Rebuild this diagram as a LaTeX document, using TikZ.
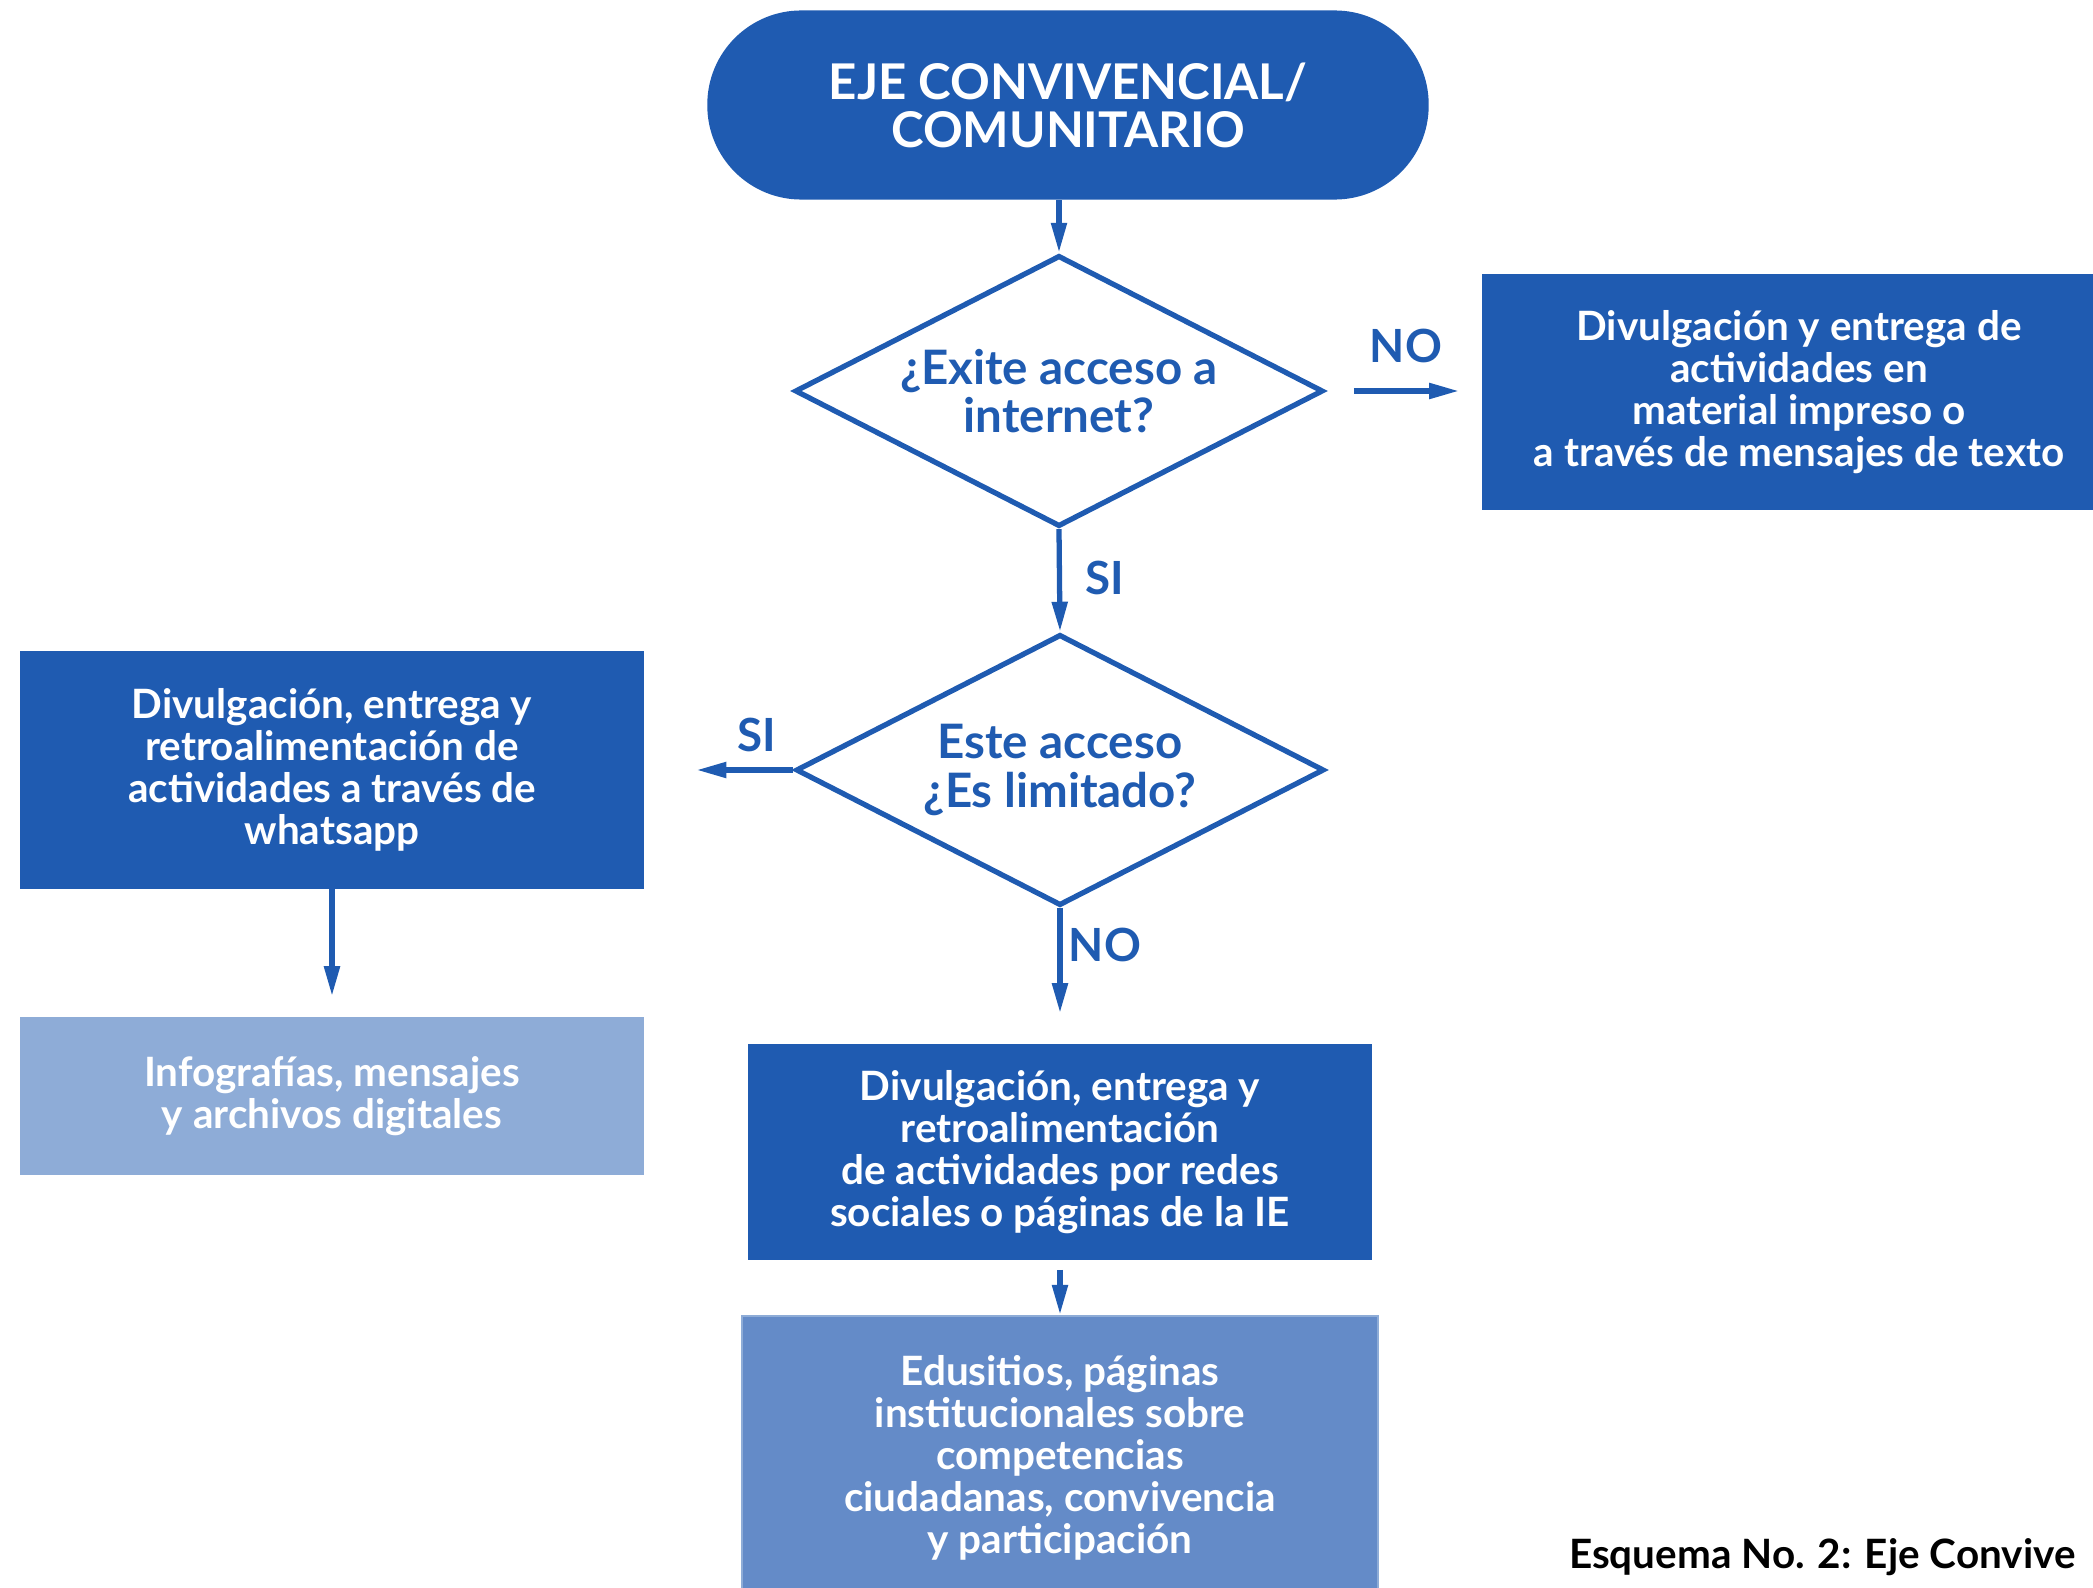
\documentclass[tikz,border=0pt]{standalone}
\usepackage{fontspec}
\setmainfont{Lato}
\usetikzlibrary{shapes.geometric,arrows.meta}
\definecolor{ejeblue}{HTML}{1F5BB1}
\definecolor{ejelight}{HTML}{8EACD7}
\definecolor{ejemid}{HTML}{648BC8}
\tikzset{
	caja/.style={fill=ejeblue,text=white,font=\bfseries\fontsize{11.5}{11.9}\selectfont,align=center,inner sep=0pt},
	decision/.style={diamond,draw=ejeblue,line width=1.5pt,text=ejeblue,font=\bfseries\fontsize{13.5}{13.7}\selectfont,align=center,aspect=1.95,inner sep=0pt,minimum width=5.28cm,minimum height=2.71cm},
	flecha/.style={draw=ejeblue,line width=1.5pt,-{Triangle[length=0.3cm,width=0.15cm]}},
	etiqueta/.style={text=ejeblue,font=\bfseries\fontsize{13}{13}\selectfont}
}
\begin{document}
\begin{tikzpicture}[x=0.01cm,y=-0.01cm]
	\useasboundingbox (0,0) rectangle (2093,1588);
	\node[caja,rounded corners=0.94cm,minimum width=7.21cm,minimum height=1.89cm,font=\bfseries\fontsize{14}{13.6}\selectfont] (eje) at (1068,105) {EJE CONVIVENCIAL/\\COMUNITARIO};
	\node[decision] (internet) at (1059,391) {¿Exite acceso a\\internet?};
	\node[caja,minimum width=6.34cm,minimum height=2.35cm] (impreso) at (1799,392) {Divulgación y entrega de\\actividades en\\material impreso o\\a través de mensajes de texto};
	\node[decision] (limitado) at (1060,770) {Este acceso\\¿Es limitado?};
	\node[caja,minimum width=6.23cm,minimum height=2.37cm] (whatsapp) at (332,770) {Divulgación, entrega y\\retroalimentación de\\actividades a través de\\whatsapp};
	\node[caja,fill=ejelight,minimum width=6.23cm,minimum height=1.58cm] (infografias) at (332,1096) {Infografías, mensajes\\y archivos digitales};
	\node[caja,minimum width=6.23cm,minimum height=2.16cm] (redes) at (1060,1152) {Divulgación, entrega y\\retroalimentación\\de actividades por redes\\sociales o páginas de la IE};
	\node[caja,fill=ejemid,draw=ejelight,line width=0.6pt,minimum width=6.35cm,minimum height=2.84cm] (edusitios) at (1060,1458) {Edusitios, páginas\\institucionales sobre\\competencias\\ciudadanas, convivencia\\y participación};
	\node[anchor=base east,font=\bfseries\fontsize{11.5}{11.5}\selectfont] (esquema) at (2088,1568) {Esquema No. 2: Eje Convive};
	\draw[flecha] (eje.south -| internet.north) -- (internet.north);
	\draw[flecha,shorten <=0.28cm,shorten >=0.22cm] (internet.east) -- (impreso.west |- internet.east);
	\draw[flecha] (internet.south) -- (limitado.north);
	\draw[flecha,shorten >=0.52cm] (limitado.west) -- (whatsapp.east |- limitado.west);
	\draw[flecha,shorten >=0.2cm] (whatsapp.south) -- (infografias.north);
	\draw[flecha,shorten >=0.3cm] (limitado.south) -- (redes.north);
	\draw[flecha,shorten <=0.09cm] (redes.south) -- (edusitios.north);
	\node[etiqueta] (no1) at (1406,346) {NO};
	\node[etiqueta] (si1) at (1105,578) {SI};
	\node[etiqueta] (si2) at (757,735) {SI};
	\node[etiqueta] (no2) at (1105,945) {NO};
\end{tikzpicture}
\end{document}
